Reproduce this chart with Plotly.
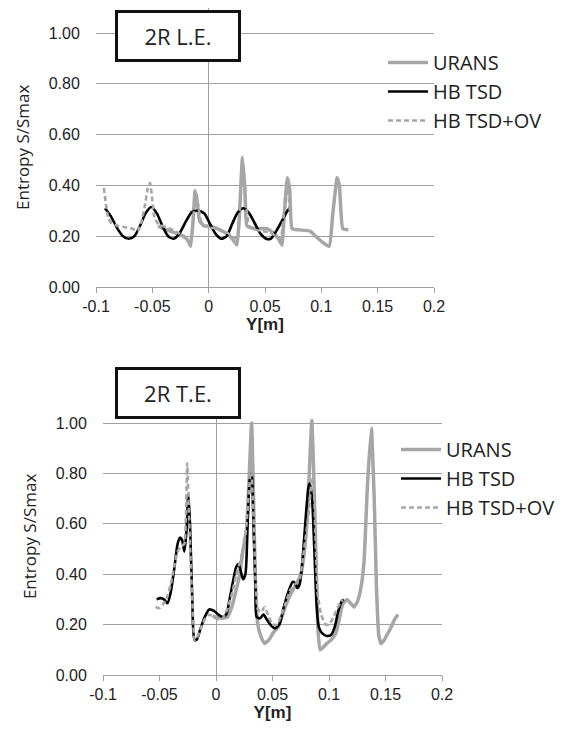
import plotly.graph_objects as go

W, H = 571, 731

# ---------------- data: top chart (2R L.E.) ----------------
le_urans_x = [-0.045, -0.040, -0.034, -0.028, -0.022, -0.018, -0.016, -0.014, -0.012, -0.010,
              -0.008, -0.004, 0.000, 0.005, 0.010, 0.016, 0.021, 0.025, 0.027, 0.030,
              0.032, 0.034, 0.040, 0.046, 0.052, 0.058, 0.062, 0.065, 0.067, 0.070,
              0.072, 0.074, 0.080, 0.090, 0.095, 0.100, 0.107, 0.110, 0.114, 0.116,
              0.119, 0.124]
le_urans_y = [0.24, 0.23, 0.22, 0.21, 0.20, 0.18, 0.16, 0.25, 0.38, 0.33,
              0.26, 0.24, 0.24, 0.235, 0.225, 0.21, 0.19, 0.165, 0.26, 0.51,
              0.40, 0.24, 0.23, 0.23, 0.23, 0.21, 0.19, 0.165, 0.28, 0.43,
              0.38, 0.23, 0.225, 0.22, 0.20, 0.18, 0.16, 0.28, 0.43, 0.40,
              0.23, 0.225]

le_tsd_x = [-0.092, -0.087, -0.081, -0.076, -0.071, -0.066, -0.061, -0.056, -0.051, -0.046,
            -0.041, -0.036, -0.031, -0.026, -0.020, -0.015, -0.010, -0.004, 0.001, 0.006,
            0.011, 0.016, 0.021, 0.026, 0.031, 0.036, 0.041, 0.046, 0.051, 0.055,
            0.060, 0.065, 0.070, 0.072]
le_tsd_y = [0.31, 0.28, 0.23, 0.20, 0.19, 0.20, 0.24, 0.29, 0.315, 0.29,
            0.24, 0.20, 0.19, 0.21, 0.26, 0.295, 0.30, 0.29, 0.25, 0.21,
            0.19, 0.20, 0.25, 0.295, 0.31, 0.29, 0.25, 0.21, 0.19, 0.19,
            0.22, 0.26, 0.30, 0.31]

le_ov_x = [-0.093, -0.091, -0.089, -0.086, -0.080, -0.074, -0.068, -0.063, -0.060, -0.057,
           -0.054, -0.052, -0.050, -0.048, -0.044, -0.038, -0.032, -0.026, -0.020, -0.016,
           -0.013, -0.011, -0.009, -0.006, 0.000, 0.006, 0.012, 0.018, 0.023, 0.026,
           0.029, 0.031, 0.033, 0.036, 0.042, 0.048, 0.054, 0.060, 0.064, 0.067,
           0.069, 0.071, 0.072]
le_ov_y = [0.39, 0.32, 0.27, 0.25, 0.24, 0.235, 0.23, 0.22, 0.25, 0.31,
           0.39, 0.41, 0.34, 0.27, 0.245, 0.235, 0.225, 0.21, 0.19, 0.19,
           0.30, 0.37, 0.31, 0.25, 0.235, 0.23, 0.22, 0.21, 0.19, 0.21,
           0.40, 0.46, 0.33, 0.24, 0.225, 0.22, 0.215, 0.20, 0.19, 0.30,
           0.42, 0.36, 0.30]

# ---------------- data: bottom chart (2R T.E.) ----------------
te_urans_x = [-0.003, 0.000, 0.005, 0.010, 0.014, 0.018, 0.021, 0.024, 0.027, 0.029,
              0.0315, 0.033, 0.035, 0.037, 0.040, 0.043, 0.047, 0.051, 0.055, 0.059,
              0.063, 0.067, 0.071, 0.075, 0.078, 0.081, 0.083, 0.0848, 0.0865, 0.088,
              0.090, 0.092, 0.095, 0.098, 0.102, 0.106, 0.109, 0.112, 0.116, 0.119,
              0.122, 0.125, 0.128, 0.131, 0.134, 0.1375, 0.140, 0.142, 0.144, 0.146,
              0.149, 0.152, 0.155, 0.158, 0.161]
te_urans_y = [0.235, 0.23, 0.225, 0.23, 0.27, 0.34, 0.40, 0.50, 0.58, 0.75,
              1.00, 0.75, 0.35, 0.20, 0.15, 0.125, 0.14, 0.17, 0.19, 0.24,
              0.29, 0.33, 0.36, 0.40, 0.48, 0.65, 0.85, 1.01, 0.80, 0.55,
              0.20, 0.10, 0.11, 0.125, 0.14, 0.165, 0.22, 0.28, 0.30, 0.285,
              0.27, 0.29, 0.34, 0.45, 0.75, 0.98, 0.70, 0.35, 0.16, 0.125,
              0.14, 0.165, 0.19, 0.22, 0.24]

te_tsd_x = [-0.0525, -0.049, -0.046, -0.043, -0.040, -0.037, -0.034, -0.032, -0.030, -0.028,
            -0.026, -0.0245, -0.023, -0.021, -0.019, -0.017, -0.014, -0.010, -0.006, -0.002,
            0.002, 0.006, 0.009, 0.012, 0.015, 0.018, 0.020, 0.022, 0.024, 0.026,
            0.028, 0.030, 0.0315, 0.033, 0.035, 0.036, 0.039, 0.042, 0.045, 0.049,
            0.052, 0.056, 0.060, 0.064, 0.068, 0.070, 0.072, 0.074, 0.076, 0.078,
            0.080, 0.082, 0.083, 0.085, 0.087, 0.089, 0.091, 0.094, 0.098, 0.102,
            0.105, 0.108, 0.111, 0.113]
te_tsd_y = [0.30, 0.305, 0.30, 0.285, 0.33, 0.42, 0.52, 0.545, 0.535, 0.49,
            0.58, 0.72, 0.60, 0.30, 0.14, 0.14, 0.18, 0.23, 0.26, 0.255,
            0.24, 0.23, 0.24, 0.30, 0.37, 0.43, 0.44, 0.41, 0.38, 0.40,
            0.60, 0.78, 0.80, 0.62, 0.35, 0.23, 0.225, 0.24, 0.22, 0.195,
            0.185, 0.20, 0.27, 0.33, 0.37, 0.365, 0.345, 0.36, 0.43, 0.54,
            0.66, 0.75, 0.76, 0.70, 0.50, 0.28, 0.19, 0.165, 0.155, 0.16,
            0.19, 0.25, 0.29, 0.30]

te_ov_x = [-0.0535, -0.050, -0.047, -0.044, -0.040, -0.037, -0.034, -0.031, -0.028, -0.0265,
           -0.0255, -0.024, -0.022, -0.020, -0.019, -0.017, -0.014, -0.010, -0.006, -0.002,
           0.002, 0.006, 0.010, 0.014, 0.018, 0.022, 0.026, 0.029, 0.031, 0.033,
           0.035, 0.037, 0.040, 0.043, 0.046, 0.050, 0.054, 0.058, 0.062, 0.066,
           0.070, 0.074, 0.078, 0.082, 0.085, 0.086, 0.088, 0.090, 0.093, 0.097,
           0.100, 0.104, 0.108, 0.112]
te_ov_y = [0.27, 0.265, 0.28, 0.30, 0.36, 0.43, 0.49, 0.51, 0.52, 0.65,
           0.84, 0.65, 0.40, 0.20, 0.14, 0.145, 0.18, 0.22, 0.24, 0.23,
           0.22, 0.225, 0.26, 0.32, 0.40, 0.46, 0.55, 0.72, 0.84, 0.65,
           0.38, 0.26, 0.25, 0.27, 0.24, 0.20, 0.20, 0.24, 0.29, 0.34,
           0.36, 0.38, 0.50, 0.64, 0.78, 0.78, 0.55, 0.32, 0.24, 0.20,
           0.20, 0.23, 0.27, 0.30]

# ---------------- labels ----------------
series_names = ["URANS", "HB TSD", "HB TSD+OV"]
panel_titles = ["2R L.E.", "2R T.E."]
x_tick_vals = [-0.1, -0.05, 0, 0.05, 0.1, 0.15, 0.2]
x_tick_text = ["-0.1", "-0.05", "0", "0.05", "0.1", "0.15", "0.2"]
y_tick_vals = [0, 0.2, 0.4, 0.6, 0.8, 1.0]
y_tick_text = ["0.00", "0.20", "0.40", "0.60", "0.80", "1.00"]
x_title = "Y[m]"
y_title = "Entropy S/Smax"

GRAY = "#a6a6a6"
GRID = "#a0a0a0"

fig = go.Figure()

def add_panel(xa, ya, leg, ux, uy, tx, ty, ox, oy):
    fig.add_trace(go.Scatter(x=ux, y=uy, mode="lines", name=series_names[0],
                             line=dict(color=GRAY, width=3.5, shape="spline", smoothing=0.4),
                             xaxis=xa, yaxis=ya, legend=leg))
    fig.add_trace(go.Scatter(x=tx, y=ty, mode="lines", name=series_names[1],
                             line=dict(color="black", width=2.6, shape="spline", smoothing=0.7),
                             xaxis=xa, yaxis=ya, legend=leg))
    fig.add_trace(go.Scatter(x=ox, y=oy, mode="lines", name=series_names[2],
                             line=dict(color=GRAY, width=2.6, dash="5px,3px", shape="spline", smoothing=0.4),
                             xaxis=xa, yaxis=ya, legend=leg))

add_panel("x", "y", "legend", le_urans_x, le_urans_y, le_tsd_x, le_tsd_y, le_ov_x, le_ov_y)
add_panel("x2", "y2", "legend2", te_urans_x, te_urans_y, te_tsd_x, te_tsd_y, te_ov_x, te_ov_y)

tick_font = dict(family="Liberation Sans, Arial", size=16, color="#222")

def xaxis_cfg(l, r, anchor):
    return dict(domain=[l / W, r / W], range=[-0.1, 0.2], anchor=anchor, automargin=False,
                tickvals=x_tick_vals, ticktext=x_tick_text, tickfont=tick_font,
                showgrid=False, zeroline=True, zerolinecolor=GRID, zerolinewidth=1.3,
                showline=True, linecolor=GRID, linewidth=1.3,
                ticks="outside", ticklen=5, tickcolor=GRID, tickwidth=1.3,
                title=dict(text=x_title, standoff=3,
                           font=dict(family="Liberation Sans, Arial", size=17, color="#222", weight="bold")))

def yaxis_cfg(b, t, anchor):
    return dict(domain=[1 - b / H, 1 - t / H], range=[0, 1.1], anchor=anchor, automargin=False,
                tickvals=y_tick_vals, ticktext=y_tick_text, tickfont=tick_font,
                showgrid=True, gridcolor=GRID, gridwidth=1.3, zeroline=False,
                showline=False, ticks="outside", ticklen=12, tickcolor="rgba(0,0,0,0)",
                title=dict(text=y_title, standoff=14,
                           font=dict(family="Open Sans", size=17, color="#222")))

fig.update_layout(
    width=W, height=H,
    margin=dict(l=0, r=0, t=0, b=0, autoexpand=False),
    paper_bgcolor="white", plot_bgcolor="white",
    xaxis=xaxis_cfg(96, 434, "y"),
    yaxis=yaxis_cfg(287, 7.6, "x"),
    xaxis2=xaxis_cfg(103, 442, "y2"),
    yaxis2=yaxis_cfg(675, 397.8, "x2"),
    legend=dict(x=383 / W, y=1 - 43 / H, xanchor="left", yanchor="top",
                bgcolor="rgba(0,0,0,0)", itemwidth=40,
                font=dict(family="Open Sans", size=20, color="#222")),
    legend2=dict(x=396 / W, y=1 - 430 / H, xanchor="left", yanchor="top",
                 bgcolor="rgba(0,0,0,0)", itemwidth=40,
                 font=dict(family="Open Sans", size=20, color="#222")),
    showlegend=True,
)

for txt, cy in zip(panel_titles, [36, 393]):
    fig.add_annotation(text=txt, xref="paper", yref="paper", x=178 / W, y=1 - cy / H,
                       xanchor="center", yanchor="middle", showarrow=False,
                       width=116, height=42, borderpad=2, borderwidth=3,
                       bordercolor="#111", bgcolor="white",
                       font=dict(family="Open Sans", size=22, color="#222"))

fig.write_html("out.html", post_script="document.body.style.margin='0px';",
               config={"displayModeBar": False})
